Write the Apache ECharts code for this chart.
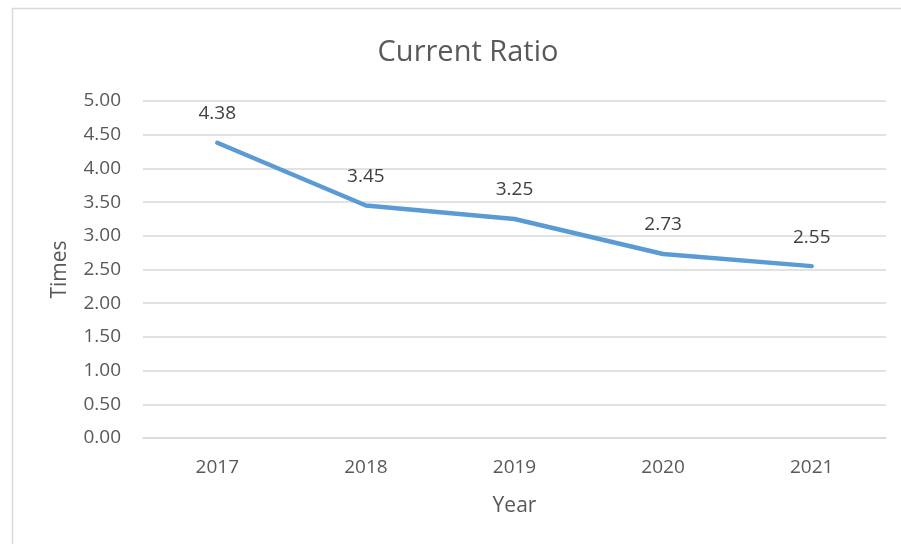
<!DOCTYPE html>
<html><head><meta charset="utf-8">
<script src="https://cdn.jsdelivr.net/npm/echarts@6/dist/echarts.min.js"></script>
<style>html,body{margin:0;padding:0;background:#fff}#c{width:901px;height:544px}</style>
</head><body><div id="c"></div>
<script>
const years = ['2017','2018','2019','2020','2021'];
const currentRatio = [4.38, 3.45, 3.25, 2.73, 2.55];
const titleText = 'Current Ratio';
const xName = 'Year';
const yName = 'Times';
const font = '"Open Sans", "Liberation Sans", sans-serif';
const chart = echarts.init(document.getElementById('c'), null, {renderer:'canvas'});
chart.setOption({
  animation: false,
  backgroundColor: '#fff',
  graphic: [{type:'rect', shape:{x:12.5,y:8.5,width:900,height:560}, style:{fill:'none', stroke:'#d9d9d9', lineWidth:1.5}, silent:true}],
  title: {text: titleText, left: 463, top: 33, textAlign:'center',
    textStyle:{fontFamily:font, fontSize:29, fontWeight:'normal', color:'#595959'}},
  grid: {left:143, right:15, top:101, bottom:106},
  xAxis: {type:'category', data: years, boundaryGap:true,
    name: xName, nameLocation:'middle', nameGap:58,
    nameTextStyle:{fontFamily:font, fontSize:21, color:'#595959'},
    axisLine:{show:true, lineStyle:{color:'#d9d9d9', width:1.5}},
    axisTick:{show:false},
    axisLabel:{fontFamily:font, fontSize:19, color:'#595959', margin:20}},
  yAxis: {type:'value', min:0, max:5, interval:0.5,
    name: yName, nameLocation:'middle', nameGap:72, nameRotate:90,
    nameTextStyle:{fontFamily:font, fontSize:21, color:'#595959'},
    axisLine:{show:false}, axisTick:{show:false},
    splitLine:{lineStyle:{color:'#d9d9d9', width:1.5}},
    axisLabel:{fontFamily:font, fontSize:19, color:'#595959', margin:22,
      formatter: v => v.toFixed(2)}},
  series: [{type:'line', data: currentRatio, symbol:'circle', symbolSize:1, showSymbol:true,
    itemStyle:{color:'rgba(91,155,213,0)', borderWidth:0},
    lineStyle:{color:'#5b9bd5', width:4.5, cap:'round'},
    label:{show:true, position:'top', distance:19, fontFamily:font, fontSize:19, color:'#404040',
      formatter: p => p.value.toFixed(2)}}]
});
</script></body></html>
